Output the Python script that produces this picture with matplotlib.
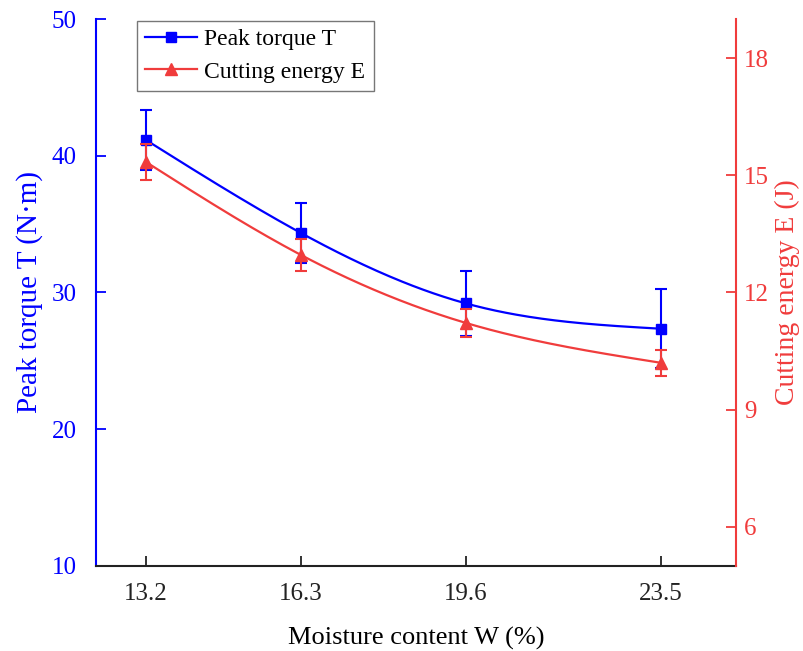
import numpy as np
import matplotlib.pyplot as plt
from matplotlib.lines import Line2D

plt.rcParams['font.family'] = ['Liberation Serif', 'DejaVu Serif']

# moisture content levels (%)
moisture = [13.2, 16.3, 19.6, 23.5]
# peak torque T (N*m) and its error
torque = [41.15, 34.35, 29.2, 27.35]
torque_err = [2.2, 2.2, 2.4, 2.9]
# cutting energy E (J) and its error
energy = [15.34, 12.96, 11.22, 10.20]
energy_err = [0.46, 0.40, 0.36, 0.33]

blue = '#0000FF'
red = '#F03C3C'


def spline(x, y, n=200):
    # natural cubic spline through the points, for a smooth connecting line
    x = np.asarray(x, float)
    y = np.asarray(y, float)
    k = len(x)
    h = np.diff(x)
    A = np.zeros((k, k))
    b = np.zeros(k)
    A[0, 0] = A[-1, -1] = 1
    for i in range(1, k - 1):
        A[i, i - 1] = h[i - 1]
        A[i, i] = 2 * (h[i - 1] + h[i])
        A[i, i + 1] = h[i]
        b[i] = 6 * ((y[i + 1] - y[i]) / h[i] - (y[i] - y[i - 1]) / h[i - 1])
    m = np.linalg.solve(A, b)
    xs = np.linspace(x[0], x[-1], n)
    idx = np.clip(np.searchsorted(x, xs) - 1, 0, k - 2)
    t0 = x[idx + 1] - xs
    t1 = xs - x[idx]
    hi = h[idx]
    ys = (m[idx] * t0 ** 3 / (6 * hi) + m[idx + 1] * t1 ** 3 / (6 * hi)
          + (y[idx] / hi - m[idx] * hi / 6) * t0
          + (y[idx + 1] / hi - m[idx + 1] * hi / 6) * t1)
    return xs, ys


fig = plt.figure(figsize=(8.04, 6.51), dpi=100)
ax = fig.add_axes([0.1194, 0.1306, 0.796, 0.8402])
ax2 = ax.twinx()

# torque on the left axis
xs, ys = spline(moisture, torque)
ax.plot(xs, ys, color=blue, lw=1.6)
ax.errorbar(moisture, torque, yerr=torque_err, fmt='s', color=blue, ms=7,
            elinewidth=1.5, capsize=4.5, capthick=1.5)

# cutting energy on the right axis
xs, ys = spline(moisture, energy)
ax2.plot(xs, ys, color=red, lw=1.6)
ax2.errorbar(moisture, energy, yerr=energy_err, fmt='^', color=red, ms=8,
             elinewidth=1.5, capsize=4.5, capthick=1.5)

ax.set_xlim(12.2, 25.0)
ax.set_ylim(10, 50)
ax2.set_ylim(5, 19)
ax.set_xticks(moisture)
ax.set_xticklabels([str(m) for m in moisture])
ax.set_yticks([10, 20, 30, 40, 50])
ax2.set_yticks([6, 9, 12, 15, 18])

ax.set_xlabel('Moisture content W (%)', fontsize=19, labelpad=16)
ax.set_ylabel('Peak torque T (N·m)', fontsize=21, color=blue, labelpad=6)
ax2.set_ylabel('Cutting energy E (J)', fontsize=20, color=red, labelpad=4)

for a in (ax, ax2):
    a.spines['top'].set_visible(False)
ax.spines['left'].set_color(blue)
ax.spines['right'].set_visible(False)
ax2.spines['left'].set_visible(False)
ax2.spines['bottom'].set_visible(False)
ax2.spines['right'].set_color(red)
for s in ('left', 'bottom'):
    ax.spines[s].set_linewidth(1.5)
ax2.spines['right'].set_linewidth(1.5)
ax.spines['bottom'].set_color('#222222')

ax.tick_params(axis='x', direction='in', length=7, width=1.3, labelsize=18,
               pad=12, colors='#222222')
ax.tick_params(axis='y', direction='in', length=7, width=1.3, labelsize=18,
               colors=blue, pad=14)
ax2.tick_params(axis='y', direction='in', length=7, width=1.3, labelsize=18,
                colors=red, pad=6)

handles = [Line2D([], [], color=blue, marker='s', ms=7, lw=1.6),
           Line2D([], [], color=red, marker='^', ms=8, lw=1.6)]
leg = ax.legend(handles, ['Peak torque T', 'Cutting energy E'],
                loc='upper left', bbox_to_anchor=(0.064, 0.997), fontsize=17,
                frameon=True, fancybox=False, edgecolor='#555555',
                borderpad=0.35, labelspacing=0.45, handlelength=2.2,
                handletextpad=0.3, borderaxespad=0)
leg.get_frame().set_linewidth(1.0)

fig.savefig('out.png', dpi=100)
